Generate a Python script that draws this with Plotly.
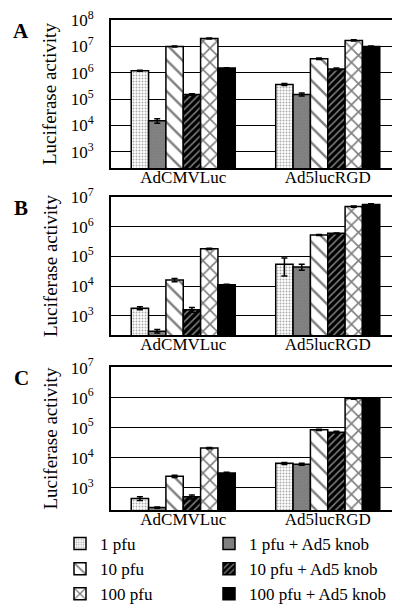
import plotly.graph_objects as go

categories = ["AdCMVLuc", "Ad5lucRGD"]
series_names = ["1 pfu", "1 pfu + Ad5 knob", "10 pfu", "10 pfu + Ad5 knob",
                "100 pfu", "100 pfu + Ad5 knob"]

# panel A values per series: [AdCMVLuc, Ad5lucRGD]
a_1pfu = [1.2e6, 3.6e5]
a_1pfu_knob = [1.5e4, 1.5e5]
a_10pfu = [1.0e7, 3.4e6]
a_10pfu_knob = [1.5e5, 1.4e6]
a_100pfu = [2.0e7, 1.7e7]
a_100pfu_knob = [1.5e6, 1.0e7]
a_err = [[5e4, 3e4], [3e3, 2e4], [4e5, 2e5], [1e4, 1e5], [1e6, 1e6], [5e4, 5e5]]

# panel B
b_1pfu = [1.8e3, 5.5e4]
b_1pfu_knob = [3.0e2, 4.4e4]
b_10pfu = [1.6e4, 5.3e5]
b_10pfu_knob = [1.6e3, 6.0e5]
b_100pfu = [1.8e5, 4.8e6]
b_100pfu_knob = [1.1e4, 5.7e6]
b_err = [[2e2, 3.3e4], [4e1, 1e4], [2e3, 2e4], [3e2, 2e4], [1e4, 2e5], [5e2, 3e5]]

# panel C
c_1pfu = [4.4e2, 6.5e3]
c_1pfu_knob = [2.2e2, 6.1e3]
c_10pfu = [2.4e3, 8.5e4]
c_10pfu_knob = [5.0e2, 7.1e4]
c_100pfu = [2.1e4, 9.3e5]
c_100pfu_knob = [3.1e3, 9.5e5]
c_err = [[6e1, 5e2], [1e1, 5e2], [2e2, 4e3], [8e1, 5e3], [1e3, 5e4], [2e2, 3e4]]

panel_letters = ["A", "B", "C"]
tick_vals = [1e3, 1e4, 1e5, 1e6, 1e7, 1e8]
tick_text = ["10<sup>3</sup>", "10<sup>4</sup>", "10<sup>5</sup>", "10<sup>6</sup>",
             "10<sup>7</sup>", "10<sup>8</sup>"]

panels = [
    [a_1pfu, a_1pfu_knob, a_10pfu, a_10pfu_knob, a_100pfu, a_100pfu_knob],
    [b_1pfu, b_1pfu_knob, b_10pfu, b_10pfu_knob, b_100pfu, b_100pfu_knob],
    [c_1pfu, c_1pfu_knob, c_10pfu, c_10pfu_knob, c_100pfu, c_100pfu_knob],
]
errors = [a_err, b_err, c_err]

patterns = [
    dict(shape=".", fgcolor="#555555", bgcolor="white", size=3, solidity=0.35),
    dict(shape=".", fgcolor="black", bgcolor="white", size=3, solidity=0.9),
    dict(shape="\\", fgcolor="black", bgcolor="white", size=11, solidity=0.22),
    dict(shape="/", fgcolor="white", bgcolor="black", size=5, solidity=0.3),
    dict(shape="x", fgcolor="black", bgcolor="white", size=10, solidity=0.3),
    dict(shape="", fgcolor="black", bgcolor="black"),
]
fill_colors = ["white", "white", "white", "black", "white", "black"]
legend_ids = ["legend", "legend2", "legend", "legend2", "legend", "legend2"]

W, H = 400, 612
serif = "Liberation Serif"

fig = go.Figure()
for p, series in enumerate(panels):
    suffix = "" if p == 0 else str(p + 1)
    for i, vals in enumerate(series):
        fig.add_trace(go.Bar(
            x=categories, y=vals, name=series_names[i],
            legendgroup=series_names[i], showlegend=(p == 0), legend=legend_ids[i],
            xaxis="x" + suffix, yaxis="y" + suffix,
            marker=dict(color=fill_colors[i], pattern=patterns[i],
                        line=dict(color="black", width=1.5)),
            error_y=dict(type="data", array=errors[p][i], color="black",
                         thickness=1.5, width=3),
        ))

# pixel layout
x_dom = [103 / W, 392 / W]
y_pix = [(12, 160), (189, 327), (359, 502)]
y_ranges = [[2.38, 8.005], [2.35, 7.005], [2.26, 7.02]]

legend_common = dict(orientation="v", yanchor="top", y=1 - 518 / H, xanchor="left",
                     traceorder="normal", tracegroupgap=2,
                     font=dict(family=serif, size=17, color="black"),
                     bgcolor="rgba(0,0,0,0)")

layout = dict(
    width=W, height=H, autosize=False,
    margin=dict(l=0, r=0, t=0, b=0, pad=0, autoexpand=False),
    paper_bgcolor="white", plot_bgcolor="white",
    barmode="group", bargap=0.28, bargroupgap=0,
    font=dict(family=serif, color="black", size=16),
    showlegend=True,
    legend=dict(x=52 / W, **legend_common),
    legend2=dict(x=201 / W, **legend_common),
)
annotations = []
for p in range(3):
    suffix = "" if p == 0 else str(p + 1)
    top, bot = y_pix[p]
    y_dom = [1 - bot / H, 1 - top / H]
    layout["xaxis" + suffix] = dict(
        domain=x_dom, anchor="y" + suffix, showline=True, mirror=True,
        linecolor="black", linewidth=2, ticks="", showgrid=False, automargin=False,
        tickfont=dict(family=serif, size=17), ticklabelstandoff=-7,
    )
    layout["yaxis" + suffix] = dict(
        domain=y_dom, anchor="x" + suffix, type="log", range=y_ranges[p],
        showline=True, mirror=True, linecolor="black", linewidth=2, automargin=False,
        showgrid=True, gridcolor="black", gridwidth=1,
        tickvals=tick_vals, ticktext=tick_text, ticks="", ticklabeloverflow="allow",
        tickfont=dict(family=serif, size=17), ticklabelstandoff=12,
    )
    annotations.append(dict(
        text="Luciferase activity", textangle=-90, xref="paper", yref="paper",
        x=42 / W, y=1 - (top + bot) / 2 / H, showarrow=False,
        font=dict(family=serif, size=19), xanchor="center", yanchor="middle",
    ))
    annotations.append(dict(
        text="<b>" + panel_letters[p] + "</b>", xref="paper", yref="paper",
        x=13 / W, y=1 - (top + 11) / H, showarrow=False,
        font=dict(family=serif, size=21), xanchor="center", yanchor="middle",
    ))
layout["annotations"] = annotations
fig.update_layout(**layout)

fig.write_html("out.html")
